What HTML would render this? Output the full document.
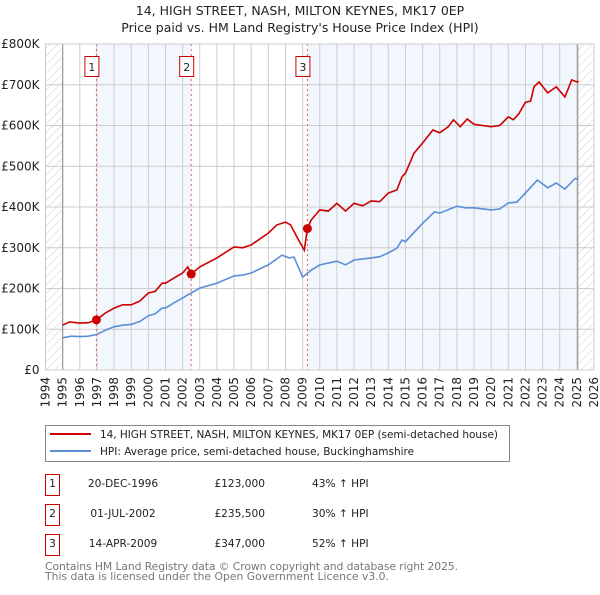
<!DOCTYPE html>
<html><head><meta charset="utf-8"><style>
body{margin:0;background:#fff;font-family:"Liberation Sans","DejaVu Sans",sans-serif;}
svg text{font-family:"DejaVu Sans","Liberation Sans",sans-serif;}
</style></head><body>
<svg id="c" width="600" height="590" xmlns="http://www.w3.org/2000/svg">
<defs><pattern id="hatch" patternUnits="userSpaceOnUse" width="6" height="6" patternTransform="rotate(45)"><line x1="0" y1="0" x2="0" y2="6" stroke="#ccc" stroke-width="1"/></pattern></defs>
<text x="300" y="15" text-anchor="middle" font-size="12.5" fill="#222">14, HIGH STREET, NASH, MILTON KEYNES, MK17 0EP</text>
<text x="300" y="32" text-anchor="middle" font-size="12.5" fill="#222">Price paid vs. HM Land Registry's House Price Index (HPI)</text>
<g id="plot"></g>
<rect x="45.5" y="425.5" width="464" height="36" fill="#fff" stroke="#888"/>
<line x1="50" y1="434" x2="91" y2="434" stroke="#cc0000" stroke-width="2"/>
<text x="100" y="438" font-size="10.5" fill="#222" textLength="398">14, HIGH STREET, NASH, MILTON KEYNES, MK17 0EP (semi-detached house)</text>
<line x1="50" y1="451" x2="91" y2="451" stroke="#5b8fd6" stroke-width="2"/>
<text x="100" y="455" font-size="10.5" fill="#222">HPI: Average price, semi-detached house, Buckinghamshire</text>
<g id="table" font-size="10.6" fill="#222"></g>
<text x="45" y="570" font-size="10.8" fill="#777" textLength="413">Contains HM Land Registry data © Crown copyright and database right 2025.</text>
<text x="45" y="580" font-size="10.8" fill="#777">This data is licensed under the Open Government Licence v3.0.</text>
</svg>
<script>
const yTicks=[0,100,200,300,400,500,600,700,800];
const yTickLabels=["£0","£100K","£200K","£300K","£400K","£500K","£600K","£700K","£800K"];
const xYears=[1994,1995,1996,1997,1998,1999,2000,2001,2002,2003,2004,2005,2006,2007,2008,2009,2010,2011,2012,2013,2014,2015,2016,2017,2018,2019,2020,2021,2022,2023,2024,2025,2026];
const hpiYears=[1995,1995.5,1996,1996.5,1997,1997.5,1998,1998.5,1999,1999.5,2000,2000.4,2000.8,2001,2001.5,2002,2002.5,2003,2004,2005,2005.5,2006,2007,2007.8,2008.2,2008.5,2009,2009.5,2010,2011,2011.5,2012,2013,2013.5,2014,2014.5,2014.8,2015,2016,2016.7,2017,2018,2018.5,2019,2020,2020.5,2021,2021.5,2022,2022.7,2023.3,2023.8,2024.3,2024.9,2025.1];
const hpiValues=[79,83,82,83,87,98,106,110,112,119,133,138,152,152,165,177,189,201,213,231,233,238,258,282,275,277,228,245,258,267,258,270,275,278,287,299,319,315,360,388,385,402,398,398,393,395,410,412,434,466,447,459,444,470,468];
const priceYears=[1995,1995.4,1996,1996.5,1996.97,1997.5,1998,1998.5,1999,1999.5,2000,2000.4,2000.8,2001,2001.5,2002,2002.3,2002.5,2003,2004,2005,2005.5,2006,2007,2007.5,2008,2008.3,2008.7,2009.1,2009.28,2009.5,2010,2010.5,2011,2011.5,2012,2012.5,2013,2013.5,2014,2014.5,2014.8,2015,2015.5,2016,2016.6,2017,2017.5,2017.8,2018.2,2018.6,2019,2019.5,2020,2020.5,2021,2021.3,2021.6,2022,2022.3,2022.5,2022.8,2023.3,2023.8,2024.3,2024.7,2025,2025.1];
const priceValues=[110,118,115,116,123,140,152,160,160,169,189,193,213,213,226,238,253,235.5,253,275,302,300,307,336,356,363,356,324,294,347,368,393,390,409,390,409,403,415,413,434,442,474,483,532,557,589,582,597,614,597,616,603,600,597,600,621,614,628,657,660,695,707,680,695,670,712,707,709];
const saleLabels=["1","2","3"];
const saleYears=[1996.97,2002.5,2009.28];
const saleValues=[123,235.5,347];
const saleDates=["20-DEC-1996","01-JUL-2002","14-APR-2009"];
const salePrices=["£123,000","£235,500","£347,000"];
const saleHpi=["43% ↑ HPI","30% ↑ HPI","52% ↑ HPI"];

const L=45.5,R=594,T=44,B=370,x0=1994,x1=2026,yMax=800;
const X=v=>L+(v-x0)/(x1-x0)*(R-L);
const Y=v=>B-v/yMax*(B-T);
const NS="http://www.w3.org/2000/svg";
const plot=document.getElementById('plot');
function mk(tag,attrs,parent){const e=document.createElementNS(NS,tag);for(const k in attrs)e.setAttribute(k,attrs[k]);(parent||plot).appendChild(e);return e;}
let r=mk('rect',{x:X(1994),y:T,width:X(1995)-X(1994),height:B-T,fill:'url(#hatch)'});


r=mk('rect',{x:X(2025.05),y:T,width:R-X(2025.05),height:B-T,fill:'url(#hatch)'});


r=mk('rect',{x:X(saleYears[0]),y:T,width:X(saleYears[1])-X(saleYears[0]),height:B-T,fill:'#f2f6fd'});


r=mk('rect',{x:X(saleYears[2]),y:T,width:X(2025.05)-X(saleYears[2]),height:B-T,fill:'#f2f6fd'});


yTicks.forEach((t,i)=>{
  let g=mk('line',{x1:L,x2:R,y1:Y(t),y2:Y(t),stroke:'#ccc','stroke-width':1});
  
  
  let tx=mk('text',{x:L-6,y:Y(t)+4,'text-anchor':'end','font-size':12,fill:'#222'});
  tx.textContent=yTickLabels[i];
  
  
});
xYears.forEach(yr=>{
  let g=mk('line',{x1:X(yr),x2:X(yr),y1:T,y2:B,stroke:'#ccc','stroke-width':1});
  
  
  let tx=mk('text',{x:0,y:0,'text-anchor':'end','font-size':12,fill:'#222',transform:`translate(${X(yr)+4},377) rotate(-90)`});
  tx.textContent=yr;
  
  
});
[1995,2025.05].forEach(yr=>{
  let g=mk('line',{x1:X(yr),x2:X(yr),y1:T,y2:B,stroke:'#999','stroke-width':1.2});
  
  
});
function path(xs,vs){return xs.map((v,i)=>(i?'L':'M')+X(v).toFixed(1)+','+Y(vs[i]).toFixed(1)).join('');}
let p=mk('path',{d:path(hpiYears,hpiValues),fill:'none',stroke:'#5b8fd6','stroke-width':1.6});


p=mk('path',{d:path(priceYears,priceValues),fill:'none',stroke:'#cc0000','stroke-width':1.6});


saleYears.forEach((yr,i)=>{
  let l=mk('line',{x1:X(yr),x2:X(yr),y1:T,y2:B,stroke:'#e06060','stroke-width':1,'stroke-dasharray':'2,3'});
  
  
  let c=mk('circle',{cx:X(yr),cy:Y(saleValues[i]),r:4.5,fill:'#cc0000'});
  
  
  let b=mk('rect',{x:X(yr)-11.5,y:56.5,width:14,height:20,fill:'#fff',stroke:'#cc0000','stroke-width':1});
  
  
  let t=mk('text',{x:X(yr)-4.5,y:71,'text-anchor':'middle','font-size':11,fill:'#222'});
  t.textContent=saleLabels[i];
  
  
});
let f=mk('rect',{x:L,y:T,width:R-L,height:B-T,fill:'none',stroke:'#ccc'});


const tb=document.getElementById('table');
saleLabels.forEach((s,i)=>{
  const y=487+i*30;
  let b=mk('rect',{x:45.5,y:y-12.5,width:14,height:21,fill:'#fff',stroke:'#cc0000'},tb);
  
  
  let t=mk('text',{x:52.5,y:y,'text-anchor':'middle'},tb);t.textContent=s;
  
  
  t=mk('text',{x:123,y:y,'text-anchor':'middle'},tb);t.textContent=saleDates[i];
  
  
  t=mk('text',{x:265,y:y,'text-anchor':'end'},tb);t.textContent=salePrices[i];
  
  
  t=mk('text',{x:312,y:y},tb);t.textContent=saleHpi[i];
  
  
});
</script>
</body></html>
